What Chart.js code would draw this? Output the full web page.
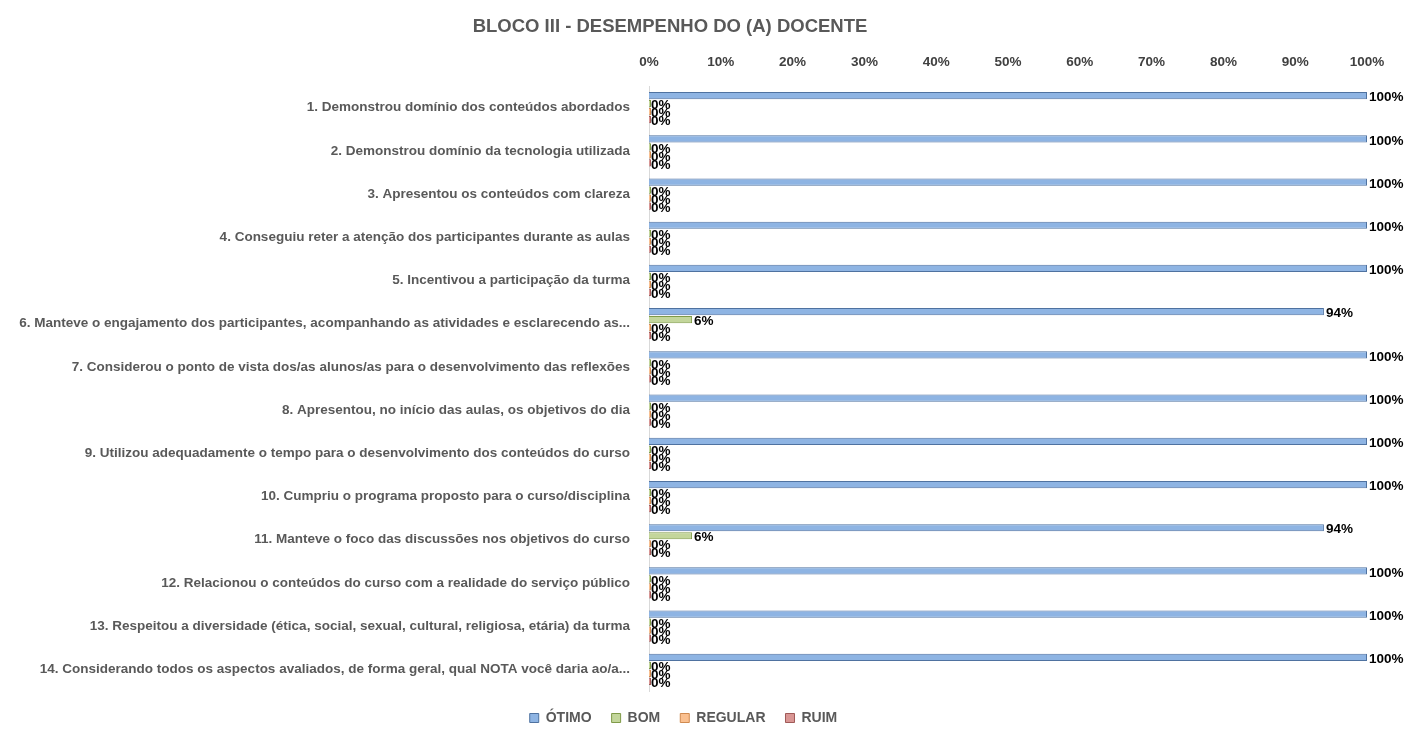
<!DOCTYPE html>
<html>
<head>
<meta charset="utf-8">
<script src="https://cdn.jsdelivr.net/npm/chart.js@4/dist/chart.umd.min.js"></script>
<style>
  html, body { margin: 0; padding: 0; background: #ffffff; }
  #wrap { width: 1407px; height: 737px; position: relative; }
</style>
</head>
<body>
<div id="wrap"><canvas id="chartBloco"></canvas></div>
<script>
const chartTitle = "BLOCO III - DESEMPENHO DO (A) DOCENTE";

const perguntas = [
  "1. Demonstrou domínio dos conteúdos abordados",
  "2. Demonstrou domínio da tecnologia utilizada",
  "3. Apresentou os conteúdos com clareza",
  "4. Conseguiu reter a atenção dos participantes durante as aulas",
  "5. Incentivou a participação da turma",
  "6. Manteve o engajamento dos participantes, acompanhando as atividades e esclarecendo as...",
  "7. Considerou o ponto de vista dos/as alunos/as para o desenvolvimento das reflexões",
  "8. Apresentou, no início das aulas, os objetivos do dia",
  "9. Utilizou adequadamente o tempo para o desenvolvimento dos conteúdos do curso",
  "10. Cumpriu o programa proposto para o curso/disciplina",
  "11. Manteve o foco das discussões nos objetivos do curso",
  "12. Relacionou o conteúdos do curso com a realidade do serviço público",
  "13. Respeitou a diversidade (ética, social, sexual, cultural, religiosa, etária) da turma",
  "14. Considerando todos os aspectos avaliados, de forma geral, qual NOTA você daria ao/a...",
];

const otimo = [100, 100, 100, 100, 100, 94, 100, 100, 100, 100, 94, 100, 100, 100];
const bom = [0, 0, 0, 0, 0, 6, 0, 0, 0, 0, 6, 0, 0, 0];
const regular = [0, 0, 0, 0, 0, 0, 0, 0, 0, 0, 0, 0, 0, 0];
const ruim = [0, 0, 0, 0, 0, 0, 0, 0, 0, 0, 0, 0, 0, 0];

const axisTicks = [0, 10, 20, 30, 40, 50, 60, 70, 80, 90, 100];

const fontFamily = "'Liberation Sans', Arial, sans-serif";

// draws the title a bit left of canvas centre, like the Excel chart
const titlePlugin = {
  id: "blocoTitle",
  afterDraw(chart) {
    const ctx = chart.ctx;
    ctx.save();
    ctx.font = `bold 18.5px ${fontFamily}`;
    ctx.fillStyle = "#595959";
    ctx.textAlign = "center";
    ctx.textBaseline = "middle";
    ctx.fillText(chartTitle, 670, 27);
    ctx.restore();
  },
};

// value labels at the end of each bar
const valueLabels = {
  id: "valueLabels",
  afterDatasetsDraw(chart) {
    const ctx = chart.ctx;
    ctx.save();
    ctx.font = `bold 13.5px ${fontFamily}`;
    ctx.fillStyle = "#000000";
    ctx.textAlign = "left";
    ctx.textBaseline = "middle";
    chart.data.datasets.forEach((ds, i) => {
      const meta = chart.getDatasetMeta(i);
      meta.data.forEach((bar, j) => {
        const x0 = chart.scales.x.getPixelForValue(ds.data[j]);
        ctx.fillText(`${ds.data[j]}%`, x0 + 2, bar.y + 2);
      });
    });
    ctx.restore();
  },
};

const ctx = document.getElementById("chartBloco").getContext("2d");

const chartBloco = new Chart(ctx, {
  type: "bar",
  data: {
    labels: perguntas,
    datasets: [
      {
        label: "ÓTIMO",
        data: otimo,
        backgroundColor: "#8eb4e3",
        borderColor: "#4f72a0",
        borderWidth: 1,
      },
      {
        label: "BOM",
        data: bom,
        backgroundColor: "#c3d69b",
        borderColor: "#7f9a48",
        borderWidth: 1,
        minBarLength: 2,
      },
      {
        label: "REGULAR",
        data: regular,
        backgroundColor: "#fac090",
        borderColor: "#d08a50",
        borderWidth: 1,
        minBarLength: 2,
      },
      {
        label: "RUIM",
        data: ruim,
        backgroundColor: "#d99694",
        borderColor: "#a05a58",
        borderWidth: 1,
        minBarLength: 2,
      },
    ],
  },
  options: {
    indexAxis: "y",
    responsive: true,
    maintainAspectRatio: false,
    animation: false,
    datasets: {
      bar: { categoryPercentage: 0.74, barPercentage: 0.9 },
    },
    layout: {
      padding: { top: 45, right: 40, bottom: 2, left: 0 },
    },
    plugins: {
      title: { display: false },
      tooltip: { enabled: false },
      legend: {
        position: "bottom",
        labels: {
          color: "#595959",
          font: { family: fontFamily, size: 14, weight: "bold" },
          boxWidth: 9,
          boxHeight: 9,
          padding: 20,
        },
      },
    },
    scales: {
      x: {
        position: "top",
        min: 0,
        max: 100,
        afterBuildTicks(scale) {
          scale.ticks = axisTicks.map((v) => ({ value: v }));
        },
        afterFit(scale) {
          scale.height = 41;
        },
        grid: { display: false, drawTicks: false },
        border: { display: false },
        ticks: {
          color: "#404040",
          padding: 16,
          font: { family: fontFamily, size: 13.5, weight: "bold" },
          callback: (v) => `${v}%`,
        },
      },
      y: {
        afterFit(scale) {
          scale.width = 649;
        },
        grid: { display: false, drawTicks: false },
        border: { display: true, color: "#d9d9d9" },
        ticks: {
          color: "#595959",
          padding: 19,
          autoSkip: false,
          font: { family: fontFamily, size: 13.5, weight: "bold" },
        },
      },
    },
  },
  plugins: [titlePlugin, valueLabels],
});
</script>
</body>
</html>
